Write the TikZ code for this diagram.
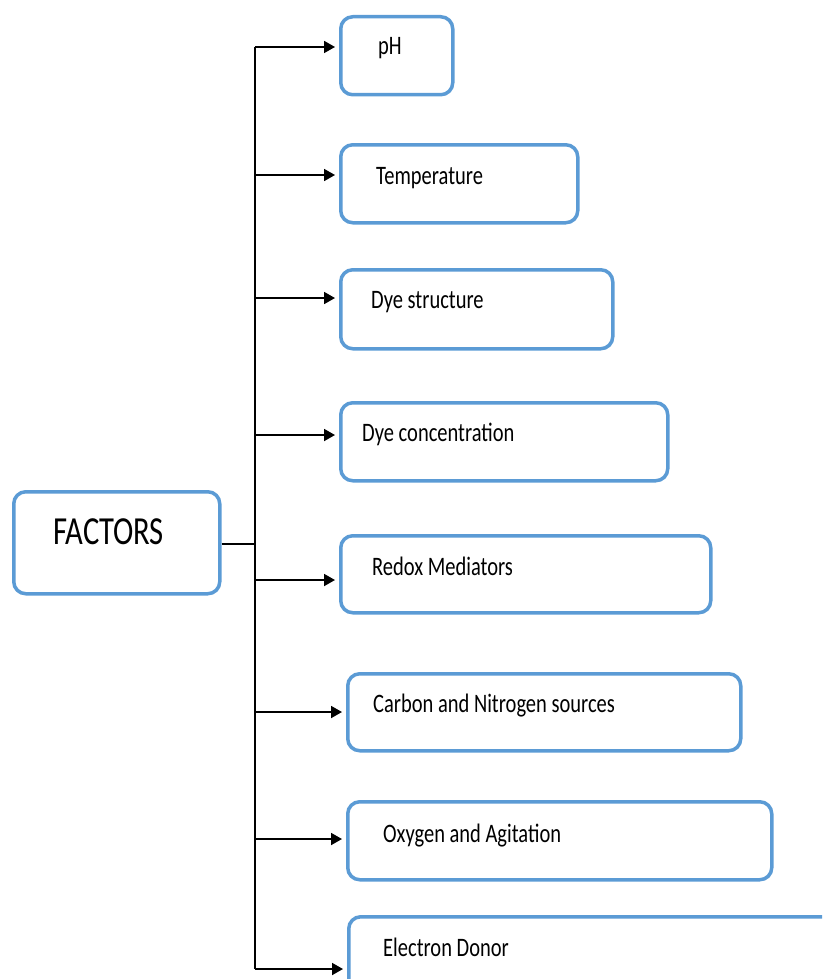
\documentclass[tikz,border=0pt]{standalone}
\usepackage{fontspec}
\setmainfont{Carlito}
\usetikzlibrary{arrows.meta}
\definecolor{boxblue}{HTML}{5B9BD5}
\newcommand{\vs}[1]{\scalebox{1}[1.3]{#1}}
\tikzset{
  box/.style={draw=boxblue, line width=3.5pt, rounded corners=12pt, fill=white, anchor=north west, inner sep=0pt},
  lbl/.style={anchor=base west, inner sep=0pt, font=\fontsize{20.5}{24}\selectfont},
  conn/.style={draw=black, line width=1.8pt},
  arr/.style={conn, -{Triangle[length=11pt,width=12pt]}, shorten >=4pt},
  thinconn/.style={draw=black, line width=1.1pt}
}
\begin{document}
\begin{tikzpicture}[x=1pt,y=-1pt]
\useasboundingbox (0,0) rectangle (822,979);
\clip (0,0) rectangle (822,979);
% boxes
\node[box, minimum width=206pt, minimum height=102pt] (F) at (12,490) {};
\node[box, minimum width=112pt, minimum height=78pt] (b1) at (339,15) {};
\node[box, minimum width=237pt, minimum height=78pt] (b2) at (339,143) {};
\node[box, minimum width=272pt, minimum height=79pt] (b3) at (339,268) {};
\node[box, minimum width=327pt, minimum height=78pt] (b4) at (339,401) {};
\node[box, minimum width=370pt, minimum height=77pt] (b5) at (339,534) {};
\node[box, minimum width=393pt, minimum height=77pt] (b6) at (346,672) {};
\node[box, minimum width=424pt, minimum height=78pt] (b7) at (346,800) {};
\node[box, minimum width=500pt, minimum height=100pt] (b8) at (347,915) {};
% texts
\node[lbl, font=\fontsize{30.6}{36}\selectfont] (tF) at (53,544) {\vs{FACTORS}};
\node[lbl] (t1) at (378,55) {\vs{pH}};
\node[lbl] (t2) at (376,184) {\vs{Temperature}};
\node[lbl] (t3) at (371,308) {\vs{Dye structure}};
\node[lbl] (t4) at (362,441) {\vs{Dye concentration}};
\node[lbl] (t5) at (372,575) {\vs{Redox Mediators}};
\node[lbl] (t6) at (373,712) {\vs{Carbon and Nitrogen sources}};
\node[lbl] (t7) at (383,842) {\vs{Oxygen and Agitation}};
\node[lbl] (t8) at (383,956) {\vs{Electron Donor}};
% connectors
\coordinate (a1) at (255,47);
\coordinate (a2) at (255,175);
\coordinate (a3) at (255,298);
\coordinate (a4) at (255,435);
\coordinate (a5) at (255,580);
\coordinate (a6) at (255,712);
\coordinate (a7) at (255,839);
\coordinate (a8) at (255,969);
\coordinate (m) at (255,544);
\draw[conn] (a1) -- (a8);
\draw[thinconn] (m -| F.east) -- (m);
\draw[arr] (a1) -- (a1 -| b1.west);
\draw[arr] (a2) -- (a2 -| b2.west);
\draw[arr] (a3) -- (a3 -| b3.west);
\draw[arr] (a4) -- (a4 -| b4.west);
\draw[arr] (a5) -- (a5 -| b5.west);
\draw[arr] (a6) -- (a6 -| b6.west);
\draw[arr] (a7) -- (a7 -| b7.west);
\draw[arr] (a8) -- (a8 -| b8.west);
\end{tikzpicture}
\end{document}
